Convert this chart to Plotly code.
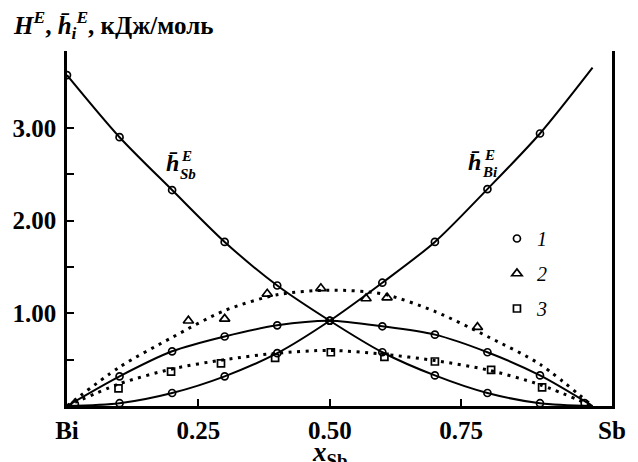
import plotly.graph_objects as go

# Mole fraction of Sb on the fitted curves
x_curve = [0.0, 0.1, 0.2, 0.3, 0.4, 0.5, 0.6, 0.7, 0.8, 0.9, 1.0]

# Partial molar excess enthalpies (kJ/mol), solid curves
h_sb_curve = [3.57, 2.90, 2.33, 1.77, 1.30, 0.92, 0.58, 0.33, 0.14, 0.03, 0.0]
h_bi_curve = [0.0, 0.03, 0.14, 0.32, 0.57, 0.92, 1.33, 1.77, 2.34, 2.94, 3.65]

# Integral excess enthalpy, set 1 (solid) and sets 2, 3 (dotted)
he1_curve = [0.0, 0.32, 0.59, 0.75, 0.87, 0.92, 0.86, 0.77, 0.58, 0.33, 0.0]
he2_curve = [0.0, 0.42, 0.74, 1.03, 1.20, 1.25, 1.21, 1.02, 0.75, 0.45, 0.0]
he3_curve = [0.0, 0.24, 0.40, 0.50, 0.57, 0.60, 0.56, 0.49, 0.39, 0.23, 0.0]

# Measured points, set 1
x1 = [0.1, 0.2, 0.3, 0.4, 0.5, 0.6, 0.7, 0.8, 0.9]
h_sb_1 = [2.90, 2.33, 1.77, 1.30, 0.92, 0.58, 0.33, 0.14, 0.03]
h_bi_1 = [0.03, 0.14, 0.32, 0.57, 0.92, 1.33, 1.77, 2.34, 2.94]
he_1 = [0.32, 0.59, 0.75, 0.87, 0.92, 0.86, 0.77, 0.58, 0.33]
x1_end = [0.015, 0.985]
he_1_end = [0.02, 0.03]

# Measured points, set 2
x2 = [0.231, 0.300, 0.381, 0.483, 0.569, 0.609, 0.781]
he_2 = [0.92, 0.94, 1.21, 1.27, 1.16, 1.17, 0.85]

# Measured points, set 3
x3 = [0.098, 0.198, 0.293, 0.396, 0.502, 0.604, 0.700, 0.807, 0.904]
he_3 = [0.19, 0.37, 0.46, 0.52, 0.58, 0.53, 0.48, 0.39, 0.20]

# Axis ticks
x_ticks = [0.0, 0.25, 0.50, 0.75, 1.037]
x_ticktext = ["Bi", "0.25", "0.50", "0.75", "Sb"]
y_ticks = [1.0, 2.0, 3.0]
y_ticktext = ["1.00", "2.00", "3.00"]

SERIF = "Liberation Serif"
W, H = 638, 462
ML, MR, MT, MB = 61, 18, 51, 56
PW, PH = W - ML - MR, H - MT - MB

fig = go.Figure()

solid = dict(color="black", width=2, shape="spline", smoothing=0.8)
dotted = dict(color="black", width=3, dash="3px,5.5px", shape="spline", smoothing=0.8)

for ys in (h_sb_curve, h_bi_curve, he1_curve):
    fig.add_trace(go.Scatter(x=x_curve, y=ys, mode="lines", line=solid,
                             showlegend=False, hoverinfo="skip"))
for ys in (he2_curve, he3_curve):
    fig.add_trace(go.Scatter(x=x_curve, y=ys, mode="lines", line=dotted,
                             showlegend=False, hoverinfo="skip"))

circ = dict(symbol="circle-open", size=7, color="black", line=dict(width=1.7, color="black"))
fig.add_trace(go.Scatter(x=x1, y=h_sb_1, mode="markers", marker=circ, showlegend=False))
fig.add_trace(go.Scatter(x=x1, y=h_bi_1, mode="markers", marker=circ, showlegend=False))
fig.add_trace(go.Scatter(x=[0.0], y=[h_sb_curve[0]], mode="markers", marker=circ, showlegend=False))
fig.add_trace(go.Scatter(x=x1_end, y=he_1_end, mode="markers", marker=circ, showlegend=False))
fig.add_trace(go.Scatter(x=x1, y=he_1, mode="markers", marker=circ, name="<i>1</i>",
                         legendgroup="g1"))
fig.add_trace(go.Scatter(x=x2, y=he_2, mode="markers", name="<i>2</i>", legendgroup="g2",
                         marker=dict(symbol="triangle-up-open", size=9, color="black",
                                     line=dict(width=1.7, color="black"))))
fig.add_trace(go.Scatter(x=x3, y=he_3, mode="markers", name="<i>3</i>", legendgroup="g3",
                         marker=dict(symbol="square-open", size=7, color="black",
                                     line=dict(width=1.7, color="black"))))


def px(xp, yp):
    """Pixel position -> paper coordinates."""
    return (xp - ML) / PW, (H - MB - yp) / PH


def label(text, xp, yp, size, italic=True, anchor="left"):
    x, y = px(xp, yp)
    fig.add_annotation(x=x, y=y, xref="paper", yref="paper", text=text, showarrow=False,
                       xanchor=anchor, yanchor="bottom",
                       font=dict(family=SERIF, size=size, color="black",
                                 weight="bold", style="italic" if italic else "normal"))


HBAR = "h\u0304"

# Vertical axis caption
label(f"<i>H</i><sup><i>E</i></sup>, <i>{HBAR}</i><sub><i>i</i></sub><sup><i>E</i></sup>, кДж/моль",
      4, 45, 25, italic=False)

# Curve labels
label(HBAR, 160, 178, 24)
label("E", 176, 166, 15)
label("Sb", 175, 184, 15)
label(HBAR, 470, 177, 24)
label("E", 487, 165, 15)
label("Bi", 485, 182, 15)

# Horizontal axis caption
fig.add_annotation(x=0.5, y=px(0, 473)[1], xref="x", yref="paper",
                   text="<i>x</i><sub>Sb</sub>", showarrow=False,
                   xanchor="center", yanchor="bottom",
                   font=dict(family=SERIF, size=27, color="black", weight="bold"))

axis_common = dict(showgrid=False, zeroline=False, showline=True, linecolor="black",
                   linewidth=2.5, ticks="inside", ticklen=7, tickwidth=2,
                   tickcolor="black",
                   tickfont=dict(family=SERIF, size=25, color="black", weight="bold"))

fig.update_xaxes(range=[0, 1.037], tickmode="array", tickvals=x_ticks,
                 ticktext=x_ticktext, mirror=False, **axis_common)
fig.update_yaxes(range=[0, 3.83], tickmode="array", tickvals=y_ticks,
                 ticktext=y_ticktext, mirror=True, ticklabelstandoff=3,
                 minor=dict(tickmode="array", tickvals=[0.5, 1.5, 2.5], ticks="inside",
                            ticklen=7, tickwidth=2, tickcolor="black"),
                 **axis_common)

lx, ly = px(502, 219)
fig.update_layout(
    width=W, height=H,
    margin=dict(l=ML, r=MR, t=MT, b=MB, pad=0),
    paper_bgcolor="white", plot_bgcolor="white",
    showlegend=True,
    legend=dict(x=lx, y=ly, xanchor="left", yanchor="top", bgcolor="rgba(0,0,0,0)",
                borderwidth=0, traceorder="grouped", tracegroupgap=6,
                font=dict(family=SERIF, size=20, color="black")),
)

fig.write_html("out.html")
